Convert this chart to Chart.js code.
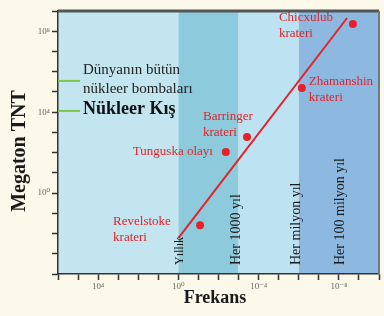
<!DOCTYPE html>
<html>
<head>
<meta charset="utf-8">
<script src="https://cdn.jsdelivr.net/npm/chart.js@4"></script>
<style>
  html, body { margin: 0; padding: 0; background: #fcf8ea; }
  #wrap { width: 384px; height: 316px; }
</style>
</head>
<body>
<div id="wrap"><canvas id="chart" width="384" height="316"></canvas></div>
<script>
// Craters / events (frequency per year, megaton TNT)
const craterNames = [['Chicxulub', 'krateri'], ['Zhamanshin', 'krateri'], ['Barringer', 'krateri'], ['Tunguska olayı'], ['Revelstoke', 'krateri']];
const craterFreq = [2e-9, 7e-7, 3.8e-4, 4.3e-3, 8.3e-2];
const craterMt = [2.3e8, 1.55e5, 590, 107, 0.026];

// Red trend line end points
const trendFreq = [1, 3.9e-9];
const trendMt = [6e-3, 4.5e8];

// Nuclear reference levels
const nukeLabels = ['Dünyanın bütün nükleer bombaları', 'Nükleer Kış'];
const nukeMt = [3.5e5, 1.15e4];

// Background bands along frequency
const bandEdges = [1e6, 1, 1e-3, 1e-6, 1e-10];
const bandNames = ['Yıllık', 'Her 1000 yıl', 'Her milyon yıl', 'Her 100 milyon yıl'];
const bandLabelFreq = [0.8, 1.3e-3, 1.25e-6, 8.7e-9];
const bandColors = ['#c2e5f0', '#8dcbdc', '#bde2f1', '#8db9e1'];

// Axis decades and labelled ticks
const xDecades = [6, 5, 4, 3, 2, 1, 0, -1, -2, -3, -4, -5, -6, -7, -8, -9, -10];
const xLabelled = [4, 0, -4, -8];
const yDecades = [-4, -3, -2, -1, 0, 1, 2, 3, 4, 5, 6, 7, 8, 9];
const yLabelled = [8, 4, 0];

const sup = { '-': '⁻', '0': '⁰', '1': '¹', '2': '²', '3': '³', '4': '⁴', '5': '⁵', '6': '⁶', '7': '⁷', '8': '⁸', '9': '⁹' };
const pow10 = d => '10' + String(d).split('').map(c => sup[c]).join('');

const serif = '"Liberation Serif", "DejaVu Serif", serif';

const decor = {
  id: 'decor',
  beforeDraw(chart) {
    const { ctx, chartArea: a, scales: { x } } = chart;
    ctx.save();
    ctx.fillStyle = '#fcf8ea';
    ctx.fillRect(0, 0, chart.width, chart.height);
    for (let i = 0; i < bandColors.length; i++) {
      const x0 = x.getPixelForValue(bandEdges[i]);
      const x1 = x.getPixelForValue(bandEdges[i + 1]);
      ctx.fillStyle = bandColors[i];
      ctx.fillRect(x0, a.top, x1 - x0, a.bottom - a.top);
    }
    ctx.restore();
  },
  beforeDatasetsDraw(chart) {
    const { ctx, chartArea: a, scales: { x, y } } = chart;
    ctx.save();
    // vertical band captions
    ctx.fillStyle = '#1a1a1a';
    ctx.textBaseline = 'middle';
    ctx.textAlign = 'left';
    bandNames.forEach((t, i) => {
      ctx.save();
      ctx.translate(x.getPixelForValue(bandLabelFreq[i]), a.bottom - 9);
      ctx.rotate(-Math.PI / 2);
      ctx.font = (i === 0 ? '12px ' : '14px ') + serif;
      ctx.fillText(t, 0, 0);
      ctx.restore();
    });
    // nuclear captions
    ctx.font = '15px ' + serif;
    ctx.fillStyle = '#222';
    const x0 = x.getPixelForValue(8e4) + 3;
    ctx.fillText('Dünyanın bütün', x0, y.getPixelForValue(nukeMt[0]) - 11);
    ctx.fillText('nükleer bombaları', x0, y.getPixelForValue(nukeMt[0]) + 8);
    ctx.font = 'bold 18px ' + serif;
    ctx.fillStyle = '#111';
    ctx.fillText(nukeLabels[1], x0, y.getPixelForValue(nukeMt[1]) - 2);
    ctx.restore();
  },
  afterDraw(chart) {
    const { ctx, chartArea: a, scales: { x, y } } = chart;
    ctx.save();
    // crater captions
    ctx.font = '13px ' + serif;
    ctx.fillStyle = '#e2232a';
    ctx.textBaseline = 'middle';
    const offs = [[-74, -6], [7, -6], [-44, -20], [-93, 0], [-87, -4]];
    craterNames.forEach((lines, i) => {
      const px = x.getPixelForValue(craterFreq[i]) + offs[i][0];
      const py = y.getPixelForValue(craterMt[i]) + offs[i][1];
      lines.forEach((t, j) => ctx.fillText(t, px, py + j * 16));
    });
    // frame
    ctx.strokeStyle = '#555';
    ctx.lineWidth = 3;
    ctx.beginPath();
    ctx.moveTo(a.left, a.top);
    ctx.lineTo(a.right, a.top);
    ctx.stroke();
    ctx.lineWidth = 2;
    ctx.strokeStyle = '#6f7a80';
    ctx.beginPath();
    ctx.moveTo(a.right, a.top);
    ctx.lineTo(a.right, a.bottom);
    ctx.stroke();
    // axis titles
    ctx.fillStyle = '#1a1a1a';
    ctx.font = 'bold 18px ' + serif;
    ctx.textAlign = 'center';
    ctx.fillText('Frekans', 215, 298);
    ctx.translate(20, 151);
    ctx.rotate(-Math.PI / 2);
    ctx.font = 'bold 20px ' + serif;
    ctx.fillText('Megaton TNT', 0, 0);
    ctx.restore();
  }
};

const decadeTicks = list => scale => { scale.ticks = list.map(d => ({ value: Math.pow(10, d) })); };

new Chart(document.getElementById('chart'), {
  type: 'scatter',
  data: {
    datasets: [
      {
        type: 'line',
        data: trendFreq.map((f, i) => ({ x: f, y: trendMt[i] })),
        borderColor: '#e2232a',
        borderWidth: 2,
        pointRadius: 0
      },
      {
        data: craterFreq.map((f, i) => ({ x: f, y: craterMt[i] })),
        backgroundColor: '#e8202a',
        borderWidth: 0,
        pointRadius: 4
      },
      ...nukeMt.map(m => ({
        type: 'line',
        data: [{ x: 1e6, y: m }, { x: 8e4, y: m }],
        borderColor: '#7cc84a',
        borderWidth: 2,
        pointRadius: 0
      }))
    ]
  },
  options: {
    responsive: false,
    animation: false,
    layout: { padding: { top: 11, right: 5, left: 0, bottom: 0 } },
    plugins: { legend: { display: false }, tooltip: { enabled: false } },
    scales: {
      x: {
        type: 'logarithmic',
        reverse: true,
        min: 1e-10,
        max: 1e6,
        afterBuildTicks: decadeTicks(xDecades),
        afterFit: s => { s.height = 42; },
        border: { color: '#333', width: 1.5 },
        grid: { drawOnChartArea: false, tickLength: 6, tickColor: '#333', tickWidth: 1.5 },
        ticks: {
          autoSkip: false,
          maxRotation: 0,
          padding: 1,
          color: '#666',
          font: { size: 9, family: serif },
          callback: v => xLabelled.includes(Math.round(Math.log10(v))) ? pow10(Math.round(Math.log10(v))) : ''
        }
      },
      y: {
        type: 'logarithmic',
        min: 1e-4,
        max: 1e9,
        afterBuildTicks: decadeTicks(yDecades),
        afterFit: s => { s.width = 58; },
        border: { color: '#333', width: 1.5 },
        grid: { drawOnChartArea: false, tickLength: 6, tickColor: '#333', tickWidth: 1.5 },
        ticks: {
          autoSkip: false,
          padding: 2,
          color: '#666',
          font: { size: 9, family: serif },
          callback: v => yLabelled.includes(Math.round(Math.log10(v))) ? pow10(Math.round(Math.log10(v))) : ''
        }
      }
    }
  },
  plugins: [decor]
});
</script>
</body>
</html>
